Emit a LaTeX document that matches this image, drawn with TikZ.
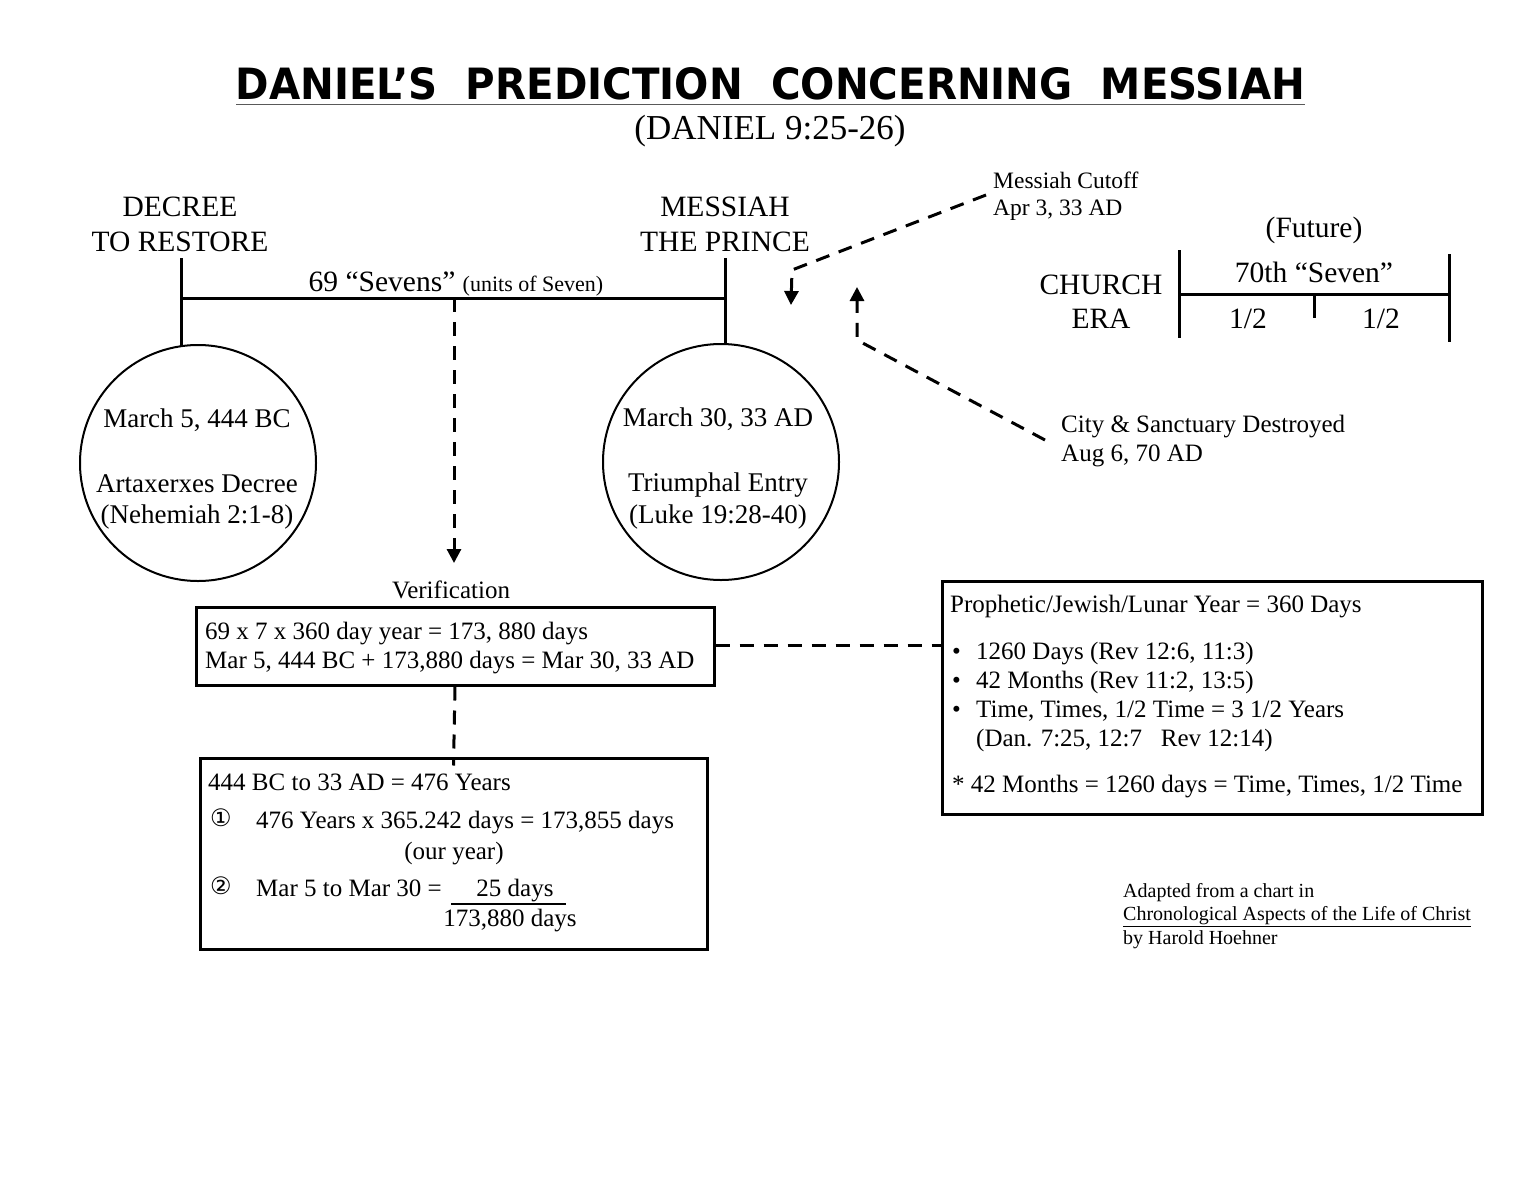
\documentclass[tikz,border=0pt]{standalone}
\usepackage{graphicx}
\usepackage{fontspec}
\setmainfont{Liberation Serif}
\newfontfamily\titlefont{DejaVu Sans}
\newfontfamily\symfont{DejaVu Sans}
\usetikzlibrary{arrows.meta}
\tikzset{
  lbl/.style={inner sep=0pt, anchor=base},
  lbll/.style={inner sep=0pt, anchor=base west},
  fbig/.style={font=\fontsize{29.5}{34}\selectfont},
  fcirc/.style={font=\fontsize{27}{31}\selectfont},
  fbox/.style={font=\fontsize{25}{29}\selectfont},
  fmid/.style={font=\fontsize{23.5}{27}\selectfont},
  fsmall/.style={font=\fontsize{22}{26}\selectfont},
  fcred/.style={font=\fontsize{20}{24}\selectfont},
  solidln/.style={line width=3pt},
  dashln/.style={line width=3pt, dash pattern=on 14pt off 10pt},
  tipdown/.style={-{Triangle[width=14pt,length=14pt]}},
  boxshape/.style={draw, line width=3pt, inner sep=0pt, rectangle},
  circshape/.style={draw, circle, line width=2pt, minimum size=236pt, inner sep=0pt},
}
\begin{document}
\begin{tikzpicture}[x=1pt,y=-1pt]
\useasboundingbox (0,0) rectangle (1540,1178);
\fill[white] (0,0) rectangle (1540,1178);

% Title
\node[lbl] (title) at (770.5,99) {\resizebox{1069pt}{32pt}{\titlefont\bfseries DANIEL’S\hspace{0.35em} PREDICTION\hspace{0.35em} CONCERNING\hspace{0.35em} MESSIAH}};
\coordinate (ulA) at (236,104.5);
\coordinate (ulB) at (1305,104.5);
\draw[line width=1.5pt, black!65] (ulA) -- (ulB);
\node[lbl, font=\fontsize{35}{40}\selectfont] (subtitle) at (770,139) {(DANIEL 9:25-26)};

% Decree / Messiah labels
\node[lbl, fbig] (decree1) at (180,216) {DECREE};
\node[lbl, fbig] (decree2) at (180,251) {TO RESTORE};
\node[lbl, fbig] (mess1) at (725,216) {MESSIAH};
\node[lbl, fbig] (mess2) at (725,251) {THE PRINCE};

% Timeline
\coordinate (dtop) at (181,258);
\coordinate (mtop) at (725,258);
\coordinate (dmid) at (181,298);
\coordinate (mmid) at (725,298);
\coordinate (vtop) at (454,298);
\coordinate (vtip) at (454,563);
\node[lbl] (sevens) at (456,291) {\fontsize{29.5}{34}\selectfont 69 “Sevens” \fontsize{22}{26}\selectfont(units of Seven)};

% Circles
\node[circshape] (c1) at (198,463) {};
\node[circshape] (c2) at (721,462) {};
\draw[solidln] (dmid) -- (mmid);
\draw[solidln] (dtop) -- (181,346);
\draw[solidln] (mtop) -- (725,344.5);
\draw[dashln, tipdown] (vtop) -- (vtip);

\node[lbl, fcirc] (c1a) at (197,427) {March 5, 444 BC};
\node[lbl, fcirc] (c1b) at (197,492) {Artaxerxes Decree};
\node[lbl, fcirc] (c1c) at (197,523) {(Nehemiah 2:1-8)};
\node[lbl, fcirc] (c2a) at (718,426) {March 30, 33 AD};
\node[lbl, fcirc] (c2b) at (718,491) {Triumphal Entry};
\node[lbl, fcirc] (c2c) at (718,523) {(Luke 19:28-40)};

% Verification box
\node[lbl, fbox] (verif) at (451,598) {Verification};
\node[boxshape, minimum width=518pt, minimum height=78pt] (box1) at (455,646) {};
\node[lbll, fbox] (b1a) at (205,639) {69 x 7 x 360 day year = 173, 880 days};
\node[lbll, fbox] (b1b) at (205,668) {Mar 5, 444 BC + 173,880 days = Mar 30, 33 AD};

% Second box
\node[boxshape, minimum width=507pt, minimum height=191pt] (box2) at (453.5,853.5) {};
\node[lbll, fbox] (b2a) at (208,790) {444 BC to 33 AD = 476 Years};
\node[lbll, inner sep=0pt, font=\symfont\fontsize{24}{28}\selectfont] (n1) at (210,826) {①};
\node[lbll, fbox] (b2b) at (256,828) {476 Years x 365.242 days = 173,855 days};
\node[lbl, fbox] (b2c) at (454,859) {(our year)};
\node[lbll, inner sep=0pt, font=\symfont\fontsize{24}{28}\selectfont] (n2) at (210,894) {②};
\node[lbll, fbox] (b2d) at (256,896) {Mar 5 to Mar 30 =};
\node[lbl, fbox] (b2e) at (515,896) {25 days};
\coordinate (fracA) at (451,904);
\coordinate (fracB) at (566,904);
\draw[line width=2pt] (fracA) -- (fracB);
\node[lbl, fbox] (b2f) at (510,926) {173,880 days};

\draw[dashln] (box1.south) -- ([yshift=-9pt]box2.north);

% Third box
\node[boxshape, minimum width=540pt, minimum height=233pt] (box3) at (1212,697.5) {};
\draw[dashln] (box1.east |- 0,645) -- (box3.west |- 0,645);
\node[lbll, fbox] (b3a) at (950,612) {Prophetic/Jewish/Lunar Year = 360 Days};
\node[lbll, fbox] (bu1) at (952,659) {•};
\node[lbll, fbox] (b3b) at (976,659) {1260 Days (Rev 12:6, 11:3)};
\node[lbll, fbox] (bu2) at (952,688) {•};
\node[lbll, fbox] (b3c) at (976,688) {42 Months (Rev 11:2, 13:5)};
\node[lbll, fbox] (bu3) at (952,717) {•};
\node[lbll, fbox] (b3d) at (976,717) {Time, Times, 1/2 Time = 3 1/2 Years};
\node[lbll, fbox] (b3e) at (976,746) {(Dan. 7:25, 12:7\hspace{0.75em}Rev 12:14)};
\node[lbll, fbox] (b3f) at (952,792) {* 42 Months = 1260 days = Time, Times, 1/2 Time};

% Credits
\node[lbll, fcred] (cr1) at (1123,897) {Adapted from a chart in};
\node[lbll, fcred] (cr2) at (1123,920) {\underline{Chronological Aspects of the Life of Christ}};
\node[lbll, fcred] (cr3) at (1123,944) {by Harold Hoehner};

% Messiah cutoff
\node[lbll, fmid] (cut1) at (993,188) {Messiah Cutoff};
\node[lbll, fmid] (cut2) at (993,215) {Apr 3, 33 AD};
\coordinate (cutS) at (986,195);
\coordinate (cutK) at (792,270);
\coordinate (cutT) at (791,305);
\draw[dashln, tipdown] (cutS) -- (cutK) -- (cutT);

% City destroyed
\node[lbll, font=\fontsize{25}{29}\selectfont] (city1) at (1061,432) {City \& Sanctuary Destroyed};
\node[lbll, fbox] (city2) at (1061,461) {Aug 6, 70 AD};
\coordinate (desS) at (1045,440);
\coordinate (desK) at (857,340);
\coordinate (desT) at (857,287);
\draw[dashln, tipdown] (desS) -- (desK) -- (desT);

% Church era and 70th seven
\node[lbl, fbig] (future) at (1314,237) {(Future)};
\node[lbl, fbig] (church1) at (1101,294) {CHURCH};
\node[lbl, fbig] (church2) at (1101,328) {ERA};
\node[lbl, fbig] (seventy) at (1314,282) {70th “Seven”};
\node[lbl, fbig] (half1) at (1248,328) {1/2};
\node[lbl, fbig] (half2) at (1381,328) {1/2};
\coordinate (sLt) at (1179,250);
\coordinate (sLb) at (1179,338);
\coordinate (sRt) at (1449,254);
\coordinate (sRb) at (1449,342);
\coordinate (sM) at (1314,294);
\coordinate (sMb) at (1314,318);
\draw[solidln] (sLt) -- (sLb);
\draw[solidln] (sRt) -- (sRb);
\draw[solidln] (sLt |- sM) -- (sRt |- sM);
\draw[solidln] (sM) -- (sMb);
\end{tikzpicture}
\end{document}
